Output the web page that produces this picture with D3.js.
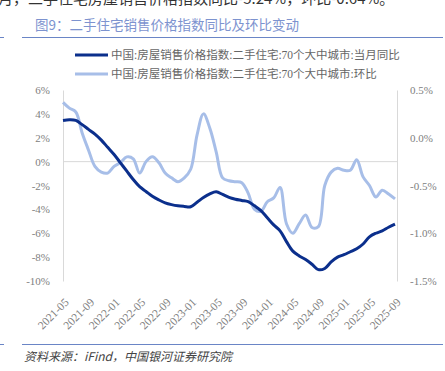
<!DOCTYPE html>
<html>
<head>
<meta charset="utf-8">
<script src="https://cdn.jsdelivr.net/npm/d3@7"></script>
<style>
  body { margin: 0; background: #fff; }
  svg { display: block; }
</style>
</head>
<body>
<div id="chart"></div>
<script>
var svgWidth = 445;
var svgHeight = 371;

// months, 2021-05 .. 2025-09
var months = [
  "2021-05","2021-06","2021-07","2021-08","2021-09","2021-10","2021-11","2021-12",
  "2022-01","2022-02","2022-03","2022-04","2022-05","2022-06","2022-07","2022-08",
  "2022-09","2022-10","2022-11","2022-12","2023-01","2023-02","2023-03","2023-04",
  "2023-05","2023-06","2023-07","2023-08","2023-09","2023-10","2023-11","2023-12",
  "2024-01","2024-02","2024-03","2024-04","2024-05","2024-06","2024-07","2024-08",
  "2024-09","2024-10","2024-11","2024-12","2025-01","2025-02","2025-03","2025-04",
  "2025-05","2025-06","2025-07","2025-08","2025-09"
];

var tickMonths = ["2021-05","2021-09","2022-01","2022-05","2022-09","2023-01","2023-05",
  "2023-09","2024-01","2024-05","2024-09","2025-01","2025-05","2025-09"];

// 当月同比 (%), left axis
var yoy = [
  3.45, 3.5, 3.45, 3.1, 2.7, 2.3, 1.8, 1.2,
  0.6, -0.1, -0.8, -1.5, -2.1, -2.5, -2.9, -3.2,
  -3.45, -3.6, -3.7, -3.75, -3.78, -3.4, -3.0, -2.7,
  -2.53, -2.75, -3.0, -3.15, -3.25, -3.35, -3.7, -4.1,
  -4.7, -5.3, -5.8, -6.7, -7.5, -7.9, -8.2, -8.6,
  -9.05, -8.95, -8.4, -8.0, -7.8, -7.55, -7.3, -6.9,
  -6.3, -6.0, -5.8, -5.5, -5.24
];

// 环比 (%), right axis
var mom = [
  0.37, 0.31, 0.27, 0.05, -0.13, -0.3, -0.36, -0.37,
  -0.3, -0.26, -0.2, -0.22, -0.37, -0.25, -0.2, -0.26,
  -0.37, -0.42, -0.46, -0.42, -0.33, 0.03, 0.25, 0.1,
  -0.15, -0.42, -0.45, -0.46, -0.47, -0.58, -0.75, -0.77,
  -0.67, -0.63, -0.52, -0.9, -1.0, -0.9, -0.81, -0.94,
  -0.93, -0.5, -0.36, -0.32, -0.34, -0.34, -0.23, -0.41,
  -0.5, -0.62, -0.55, -0.59, -0.64
];

var leftTicks = [6, 4, 2, 0, -2, -4, -6, -8, -10];
var rightTicks = [0.5, 0.0, -0.5, -1.0, -1.5];

var seriesNames = [
  "中国:房屋销售价格指数:二手住宅:70个大中城市:当月同比",
  "中国:房屋销售价格指数:二手住宅:70个大中城市:环比"
];
var darkBlue = "#0b2f8c";
var lightBlue = "#a7bee8";

var font = "'Liberation Serif', 'Noto Sans CJK SC', serif";

var svg = d3.select("#chart")
  .append("svg")
  .attr("width", svgWidth)
  .attr("height", svgHeight);

// text from the page above, cut off
svg.append("text")
  .attr("x", -2)
  .attr("y", 4)
  .attr("font-family", "'Noto Sans CJK SC', sans-serif")
  .attr("font-size", 15)
  .attr("fill", "#333")
  .text("月，二手住宅房屋销售价格指数同比-5.24%，环比-0.64%。");

// title
svg.append("text")
  .attr("x", 35)
  .attr("y", 30)
  .attr("font-family", "'Noto Sans CJK SC', sans-serif")
  .attr("font-size", 13.5)
  .attr("fill", "#7d93cf")
  .text("图9：二手住宅销售价格指数同比及环比变动");

// rules above and below the chart
[37.5, 344.5].forEach(function(y) {
  svg.append("line").attr("x1", 22).attr("x2", 443).attr("y1", y).attr("y2", y)
    .attr("stroke", "#6a85c6").attr("stroke-width", 1);
  svg.append("line").attr("x1", 0).attr("x2", 4).attr("y1", y).attr("y2", y)
    .attr("stroke", "#6a85c6").attr("stroke-width", 1);
});

// source
svg.append("text")
  .attr("x", 24)
  .attr("y", 361)
  .attr("font-family", "'Noto Sans CJK SC', sans-serif")
  .attr("font-size", 12)
  .attr("font-style", "italic")
  .attr("fill", "#444")
  .text("资料来源：iFind，中国银河证券研究院");

// scales
var x = d3.scalePoint().domain(months).range([63, 395]);
var yLeft = d3.scaleLinear().domain([-10, 6]).range([281, 90]);
var yRight = d3.scaleLinear().domain([-1.5, 0.5]).range([281, 90]);

// axes
var leftAxis = d3.axisLeft(yLeft).tickValues(leftTicks).tickSize(0).tickPadding(13)
  .tickFormat(function(d) { return d + "%"; });
var rightAxis = d3.axisRight(yRight).tickValues(rightTicks).tickSize(0).tickPadding(13)
  .tickFormat(function(d) { return d.toFixed(1) + "%"; });
var bottomAxis = d3.axisBottom(x).tickValues(tickMonths).tickSize(0);

var gl = svg.append("g").attr("transform", "translate(63,0)").call(leftAxis);
var gr = svg.append("g").attr("transform", "translate(397,0)").call(rightAxis);
[gl, gr].forEach(function(g) {
  g.select(".domain").attr("stroke", "#d9d9d9");
  g.selectAll("text").attr("font-family", font).attr("font-size", 11).attr("fill", "#808080");
});

// zero line
svg.append("line")
  .attr("x1", 63).attr("x2", 397)
  .attr("y1", yLeft(0)).attr("y2", yLeft(0))
  .attr("stroke", "#d9d9d9").attr("stroke-width", 1);

var gb = svg.append("g").attr("transform", "translate(0,281)").call(bottomAxis);
gb.select(".domain").remove();
gb.selectAll("text")
  .attr("font-family", font)
  .attr("font-size", 11.5)
  .attr("fill", "#808080")
  .attr("text-anchor", "end")
  .attr("y", 0)
  .attr("dy", 0)
  .attr("transform", "translate(6,22) rotate(-45)");

// lines
var lineMom = d3.line()
  .x(function(d, i) { return x(months[i]); })
  .y(function(d) { return yRight(d); })
  .curve(d3.curveCatmullRom.alpha(0.5));

var lineYoy = d3.line()
  .x(function(d, i) { return x(months[i]); })
  .y(function(d) { return yLeft(d); })
  .curve(d3.curveCatmullRom.alpha(0.5));

svg.append("path").datum(mom)
  .attr("d", lineMom)
  .attr("fill", "none")
  .attr("stroke", lightBlue)
  .attr("stroke-width", 3)
  .attr("stroke-linejoin", "round");

svg.append("path").datum(yoy)
  .attr("d", lineYoy)
  .attr("fill", "none")
  .attr("stroke", darkBlue)
  .attr("stroke-width", 3)
  .attr("stroke-linejoin", "round");

// legend
var legend = svg.selectAll(".legend")
  .data(seriesNames)
  .enter()
  .append("g")
  .attr("transform", function(d, i) { return "translate(75," + (55 + i * 19) + ")"; });

legend.append("line")
  .attr("x1", 0).attr("x2", 33)
  .attr("stroke", function(d, i) { return i === 0 ? darkBlue : lightBlue; })
  .attr("stroke-width", 3);

legend.append("text")
  .attr("x", 36)
  .attr("dy", "0.35em")
  .attr("font-family", font)
  .attr("font-size", 11.5)
  .attr("fill", "#666")
  .text(function(d) { return d; });
</script>
</body>
</html>
